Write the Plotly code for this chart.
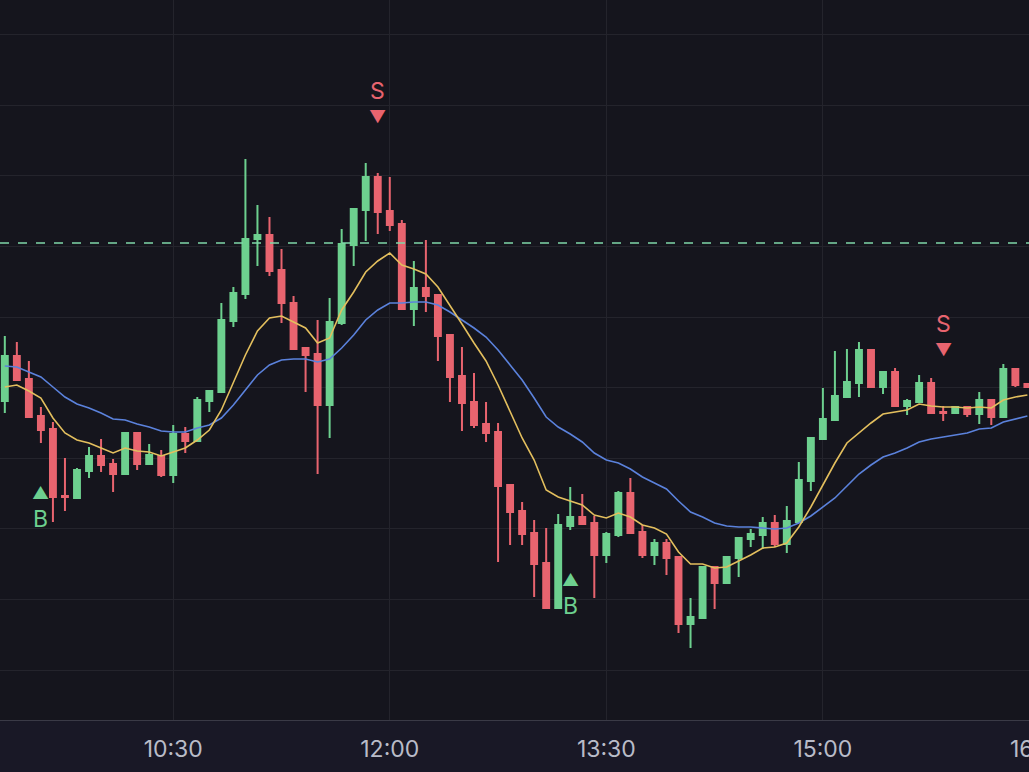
import pandas as pd
import plotly.graph_objects as go

# 5-minute bars
times = pd.date_range("2024-03-05 09:20", periods=86, freq="5min")

opens = [59.9, 64.4, 62.1, 58.4, 57.1, 50.4, 50.2, 52.9, 54.4, 53.6,
         52.6, 56.7, 53.6, 54.4, 52.5, 56.6, 55.9, 59.9, 60.8, 67.9,
         70.6, 76.1, 76.5, 73.0, 69.7, 65.2, 64.6, 59.5, 67.7, 75.5,
         79.0, 82.3, 78.9, 77.6, 69.1, 71.2, 70.5, 66.5, 62.4, 59.8,
         57.6, 56.8, 51.5, 48.9, 46.7, 43.7, 39.2, 47.4, 48.3, 47.7,
         44.5, 46.5, 50.7, 46.8, 44.5, 45.7, 44.3, 37.6, 38.2, 43.3,
         41.7, 44.2, 46.1, 46.5, 47.7, 45.6, 47.8, 51.9, 56.1, 58.0,
         60.3, 61.7, 65.0, 61.3, 62.8, 59.4, 59.8, 61.7, 58.8, 58.7,
         59.3, 58.6, 60.0, 58.3, 63.1, 61.6]
highs = [66.4, 65.8, 63.9, 59.3, 57.8, 54.2, 53.2, 55.3, 56.1, 54.1,
         56.7, 56.7, 55.6, 55.0, 57.5, 57.3, 60.3, 60.9, 69.7, 71.3,
         84.1, 79.5, 78.3, 75.1, 70.4, 65.3, 68.0, 70.2, 77.1, 79.2,
         83.7, 82.7, 82.3, 78.0, 73.9, 76.0, 70.6, 66.5, 65.3, 62.7,
         59.8, 57.7, 51.5, 49.8, 48.0, 47.2, 48.6, 51.3, 50.6, 48.4,
         46.8, 50.9, 52.2, 47.5, 46.1, 46.1, 44.3, 40.2, 43.3, 43.3,
         44.3, 46.2, 47.1, 48.3, 48.5, 49.4, 53.8, 56.2, 61.2, 64.9,
         65.1, 65.8, 65.0, 62.8, 63.2, 60.1, 62.5, 62.2, 59.4, 59.3,
         59.4, 60.8, 60.0, 63.6, 63.1, 61.6]
lows = [58.7, 62.0, 58.3, 55.7, 47.8, 48.9, 50.1, 52.2, 52.8, 50.8,
        52.6, 53.0, 53.6, 52.3, 51.7, 54.7, 55.9, 58.8, 60.8, 67.3,
        70.1, 73.4, 72.4, 67.7, 65.1, 60.8, 52.6, 56.2, 67.5, 73.4,
        75.9, 76.6, 76.9, 69.1, 67.4, 68.8, 63.9, 59.8, 56.9, 57.2,
        55.8, 43.8, 45.5, 45.5, 40.3, 39.2, 39.2, 47.0, 47.6, 40.2,
        43.7, 46.3, 46.7, 44.2, 43.5, 42.5, 36.7, 35.2, 38.2, 39.1,
        41.7, 42.3, 45.3, 45.1, 45.3, 44.7, 47.8, 50.9, 56.1, 58.0,
        60.3, 60.3, 61.3, 60.6, 59.4, 58.5, 59.8, 58.7, 57.9, 58.7,
        58.3, 57.6, 57.5, 58.3, 61.3, 61.3]
closes = [64.4, 62.0, 58.3, 57.0, 50.3, 50.3, 53.0, 54.4, 53.5, 52.6,
          56.7, 53.6, 54.5, 52.5, 56.6, 55.9, 60.0, 60.9, 68.0, 70.7,
          76.1, 76.5, 72.9, 69.7, 65.1, 64.5, 59.5, 67.8, 75.6, 79.1,
          82.3, 78.8, 77.5, 69.1, 71.2, 70.4, 66.4, 62.3, 59.7, 57.5,
          56.7, 51.4, 48.8, 46.6, 43.6, 39.2, 47.5, 48.3, 47.6, 44.5,
          46.6, 50.7, 46.7, 44.5, 45.7, 44.2, 37.6, 38.3, 43.3, 41.7,
          44.3, 46.2, 46.6, 47.7, 45.6, 47.9, 52.0, 56.2, 58.1, 60.4,
          61.8, 65.0, 61.3, 62.8, 59.4, 59.9, 61.7, 58.7, 58.7, 59.3,
          58.6, 60.0, 58.3, 63.1, 61.5, 61.3]

ema_fast = [61.3, 61.5, 60.9, 60.2, 58.2, 56.7, 56.0, 55.7, 55.2, 54.7,
            55.2, 54.9, 54.8, 54.4, 54.8, 55.2, 56.0, 57.0, 59.0, 61.7,
            64.5, 66.9, 68.2, 68.4, 67.8, 67.2, 65.7, 66.2, 69.0, 70.8,
            72.8, 73.9, 74.7, 73.5, 73.1, 72.6, 71.3, 69.5, 67.6, 65.7,
            63.9, 61.5, 58.8, 56.2, 54.0, 51.0, 50.3, 49.9, 49.5, 48.5,
            48.2, 48.7, 48.3, 47.5, 47.2, 46.6, 44.8, 43.6, 43.6, 43.2,
            43.3, 43.9, 44.5, 45.2, 45.3, 45.7, 47.3, 49.3, 51.5, 53.7,
            55.7, 56.7, 57.7, 58.6, 58.8, 59.0, 59.6, 59.4, 59.3, 59.3,
            59.2, 59.3, 59.2, 60.0, 60.3, 60.5]
ema_slow = [63.4, 63.3, 62.8, 62.3, 61.3, 60.3, 59.6, 59.2, 58.7, 58.1,
            58.0, 57.6, 57.3, 56.9, 56.8, 56.8, 57.2, 57.5, 58.2, 59.5,
            61.0, 62.5, 63.5, 64.0, 64.1, 64.1, 63.8, 64.1, 65.2, 66.5,
            68.0, 69.0, 69.7, 69.7, 69.8, 69.8, 69.5, 68.8, 68.0, 67.2,
            66.3, 65.0, 63.5, 62.0, 60.2, 58.3, 57.3, 56.6, 55.8, 54.7,
            54.0, 53.7, 53.1, 52.3, 51.7, 51.1, 49.9, 48.8, 48.3, 47.7,
            47.4, 47.3, 47.3, 47.2, 47.1, 47.2, 47.7, 48.4, 49.3, 50.2,
            51.4, 52.6, 53.5, 54.3, 54.7, 55.2, 55.8, 56.1, 56.3, 56.5,
            56.7, 57.1, 57.2, 57.8, 58.1, 58.4]

buy_idx = [3, 47]
sell_idx = [31, 78]
ref_level = 75.7
x_start = pd.Timestamp("2024-03-05 09:18:00")
x_end = pd.Timestamp("2024-03-05 16:25:40")
clipped_tick = pd.Timestamp("2024-03-05 16:30")

UP = "#6dd08f"
DOWN = "#e8646f"
GRID = "#24242c"
TICK_COLOR = "#b9bcc8"

fig = go.Figure()
fig.add_trace(go.Candlestick(
    x=times, open=opens, high=highs, low=lows, close=closes,
    increasing=dict(line=dict(color=UP, width=2), fillcolor=UP),
    decreasing=dict(line=dict(color=DOWN, width=2), fillcolor=DOWN),
    whiskerwidth=0, showlegend=False,
))
fig.add_trace(go.Scatter(x=times, y=ema_slow, mode="lines",
                         line=dict(color="#5b82dc", width=1.6), showlegend=False))
fig.add_trace(go.Scatter(x=times, y=ema_fast, mode="lines",
                         line=dict(color="#e3bf5e", width=1.6), showlegend=False))

fig.add_hline(y=ref_level, line=dict(color="#7fd6a8", width=1.3, dash="dash"))

for i in buy_idx:
    fig.add_annotation(x=times[i], y=lows[i], text="▲", showarrow=False,
                       yshift=-50, font=dict(color=UP, size=17))
    fig.add_annotation(x=times[i], y=lows[i], text="B", showarrow=False,
                       yshift=-76, font=dict(color=UP, size=23))
for i in sell_idx:
    fig.add_annotation(x=times[i], y=highs[i], text="▼", showarrow=False,
                       yshift=56, font=dict(color=DOWN, size=17))
    fig.add_annotation(x=times[i], y=highs[i], text="S", showarrow=False,
                       yshift=82, font=dict(color=DOWN, size=23))

# the 16:30 label sits past the right edge, only partly visible
frac = (clipped_tick - x_start) / (x_end - x_start)
fig.add_annotation(x=frac, xref="paper", y=0, yref="paper", text="16:30",
                   showarrow=False, xanchor="left", xshift=-31, yshift=-45,
                   font=dict(color=TICK_COLOR, size=23))

fig.update_layout(
    width=1029, height=772,
    margin=dict(l=0, r=0, t=0, b=52),
    paper_bgcolor="#191826",
    plot_bgcolor="#15151d",
    font=dict(family="Inter, Roboto, sans-serif", color=TICK_COLOR, size=23),
    xaxis=dict(
        rangeslider=dict(visible=False),
        range=[x_start, x_end],
        tick0="2024-03-05 10:30", dtick=90 * 60 * 1000, tickformat="%H:%M",
        showgrid=True, gridcolor=GRID, gridwidth=1,
        showline=True, linecolor="#3a3a46", ticks="", zeroline=False,
        ticklabelstandoff=8,
    ),
    yaxis=dict(
        range=[28, 100], tick0=33, dtick=7.06,
        showgrid=True, gridcolor=GRID, gridwidth=1,
        showticklabels=False, zeroline=False,
    ),
)

fig.write_html(
    "out.html",
    config={"displayModeBar": False},
    post_script="document.body.style.margin='0';document.body.style.overflow='hidden';",
)
